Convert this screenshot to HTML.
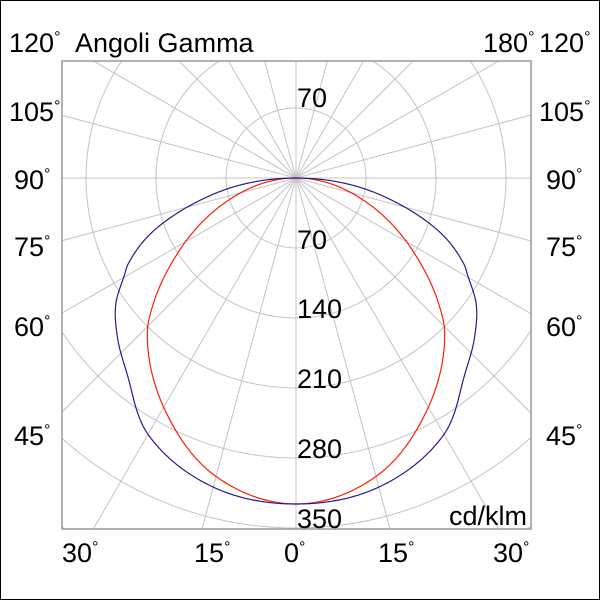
<!DOCTYPE html>
<html><head><meta charset="utf-8"><style>
html,body{margin:0;padding:0;width:600px;height:600px;overflow:hidden;background:#fff}
svg{display:block}
text{font-family:"Liberation Sans",sans-serif;font-size:27px;fill:#000}
</style></head><body>
<svg id="s" width="600" height="600" viewBox="0 0 600 600">
<rect x="0.5" y="0.5" width="599" height="599" fill="#fff" stroke="#000" stroke-width="1"/>
<defs><clipPath id="c"><rect x="62" y="61" width="469" height="468"/></clipPath></defs>
<g id="grid" clip-path="url(#c)" stroke="#c4c4c4" stroke-width="1" fill="none"></g>
<rect x="62" y="61" width="469" height="468" fill="none" stroke="#999" stroke-width="1.5"/>
<g clip-path="url(#c)"><path id="red" fill="none" stroke="#ff2000" stroke-width="1.2"/>
<path id="blue" fill="none" stroke="#2a1a8a" stroke-width="1.2"/></g>
<g>
<text x="9" y="52">120<tspan font-size="16" dy="-10">°</tspan></text>
<text x="75" y="52">Angoli Gamma</text>
<text x="483" y="52">180<tspan font-size="16" dy="-10">°</tspan></text>
<text x="539" y="52">120<tspan font-size="16" dy="-10">°</tspan></text>
<text x="9" y="121">105<tspan font-size="16" dy="-10">°</tspan></text>
<text x="539" y="121">105<tspan font-size="16" dy="-10">°</tspan></text>
<text x="14" y="189">90<tspan font-size="16" dy="-10">°</tspan></text>
<text x="546" y="189">90<tspan font-size="16" dy="-10">°</tspan></text>
<text x="14" y="256">75<tspan font-size="16" dy="-10">°</tspan></text>
<text x="546" y="256">75<tspan font-size="16" dy="-10">°</tspan></text>
<text x="14" y="336">60<tspan font-size="16" dy="-10">°</tspan></text>
<text x="546" y="336">60<tspan font-size="16" dy="-10">°</tspan></text>
<text x="14" y="445">45<tspan font-size="16" dy="-10">°</tspan></text>
<text x="546" y="445">45<tspan font-size="16" dy="-10">°</tspan></text>
<text x="62" y="562">30<tspan font-size="16" dy="-10">°</tspan></text>
<text x="194" y="562">15<tspan font-size="16" dy="-10">°</tspan></text>
<text x="284" y="562">0<tspan font-size="16" dy="-10">°</tspan></text>
<text x="378" y="562">15<tspan font-size="16" dy="-10">°</tspan></text>
<text x="493" y="562">30<tspan font-size="16" dy="-10">°</tspan></text>
<text x="297" y="107">70</text>
<text x="297" y="249">70</text>
<text x="297" y="318">140</text>
<text x="297" y="388">210</text>
<text x="297" y="458">280</text>
<text x="297" y="528">350</text>
<text x="527" y="525" text-anchor="end">cd/klm</text>
</g>
</svg>
<script>
var cx=296,cy=178,ns="http://www.w3.org/2000/svg",g=document.getElementById('grid');
for(var r=70;r<=560;r+=70){var c=document.createElementNS(ns,'circle');c.setAttribute('cx',cx);c.setAttribute('cy',cy);c.setAttribute('r',r);g.appendChild(c);}
for(var a=0;a<180;a+=15){var t=a*Math.PI/180,l=document.createElementNS(ns,'line');
l.setAttribute('x1',cx-700*Math.sin(t));l.setAttribute('y1',cy-700*Math.cos(t));
l.setAttribute('x2',cx+700*Math.sin(t));l.setAttribute('y2',cy+700*Math.cos(t));g.appendChild(l);}
function mk(T){var n=T.length,m=[];
for(var i=0;i<n;i++){if(i==0)m.push(0);else if(i==n-1)m.push((T[i][1]-T[i-1][1])/(T[i][0]-T[i-1][0]));
else m.push((T[i+1][1]-T[i-1][1])/(T[i+1][0]-T[i-1][0]));}
return function(d){for(var i=0;i<n-1;i++){if(d<=T[i+1][0]){var h=T[i+1][0]-T[i][0],u=(d-T[i][0])/h,u2=u*u,u3=u2*u;
return (2*u3-3*u2+1)*T[i][1]+(u3-2*u2+u)*h*m[i]+(-2*u3+3*u2)*T[i+1][1]+(u3-u2)*h*m[i+1];}}return 0;}}
function path(f){var p=[],q=[];for(var d=0;d<=90;d+=0.25){var r=Math.max(0,f(d)),t=d*Math.PI/180;
p.push([cx+r*Math.sin(t),cy+r*Math.cos(t)]);q.push([cx-r*Math.sin(t),cy+r*Math.cos(t)]);}
var s=q.reverse().concat(p);return 'M'+s.map(function(v){return v[0].toFixed(2)+','+v[1].toFixed(2)}).join('L');}
var R=[[0,326],[15,309],[29,268],[44,214],[49,188],[58,138],[72,70],[82,30],[90,0]];
document.getElementById('red').setAttribute('d',path(mk(R)));
var T=[[0,326],[15,320],[30,296],[40,261],[48,240],[55,220],[60,199],[63,188],[69,156],[77,98],[83,55],[90,0]];
document.getElementById('blue').setAttribute('d',path(mk(T)));
</script>
</body></html>
